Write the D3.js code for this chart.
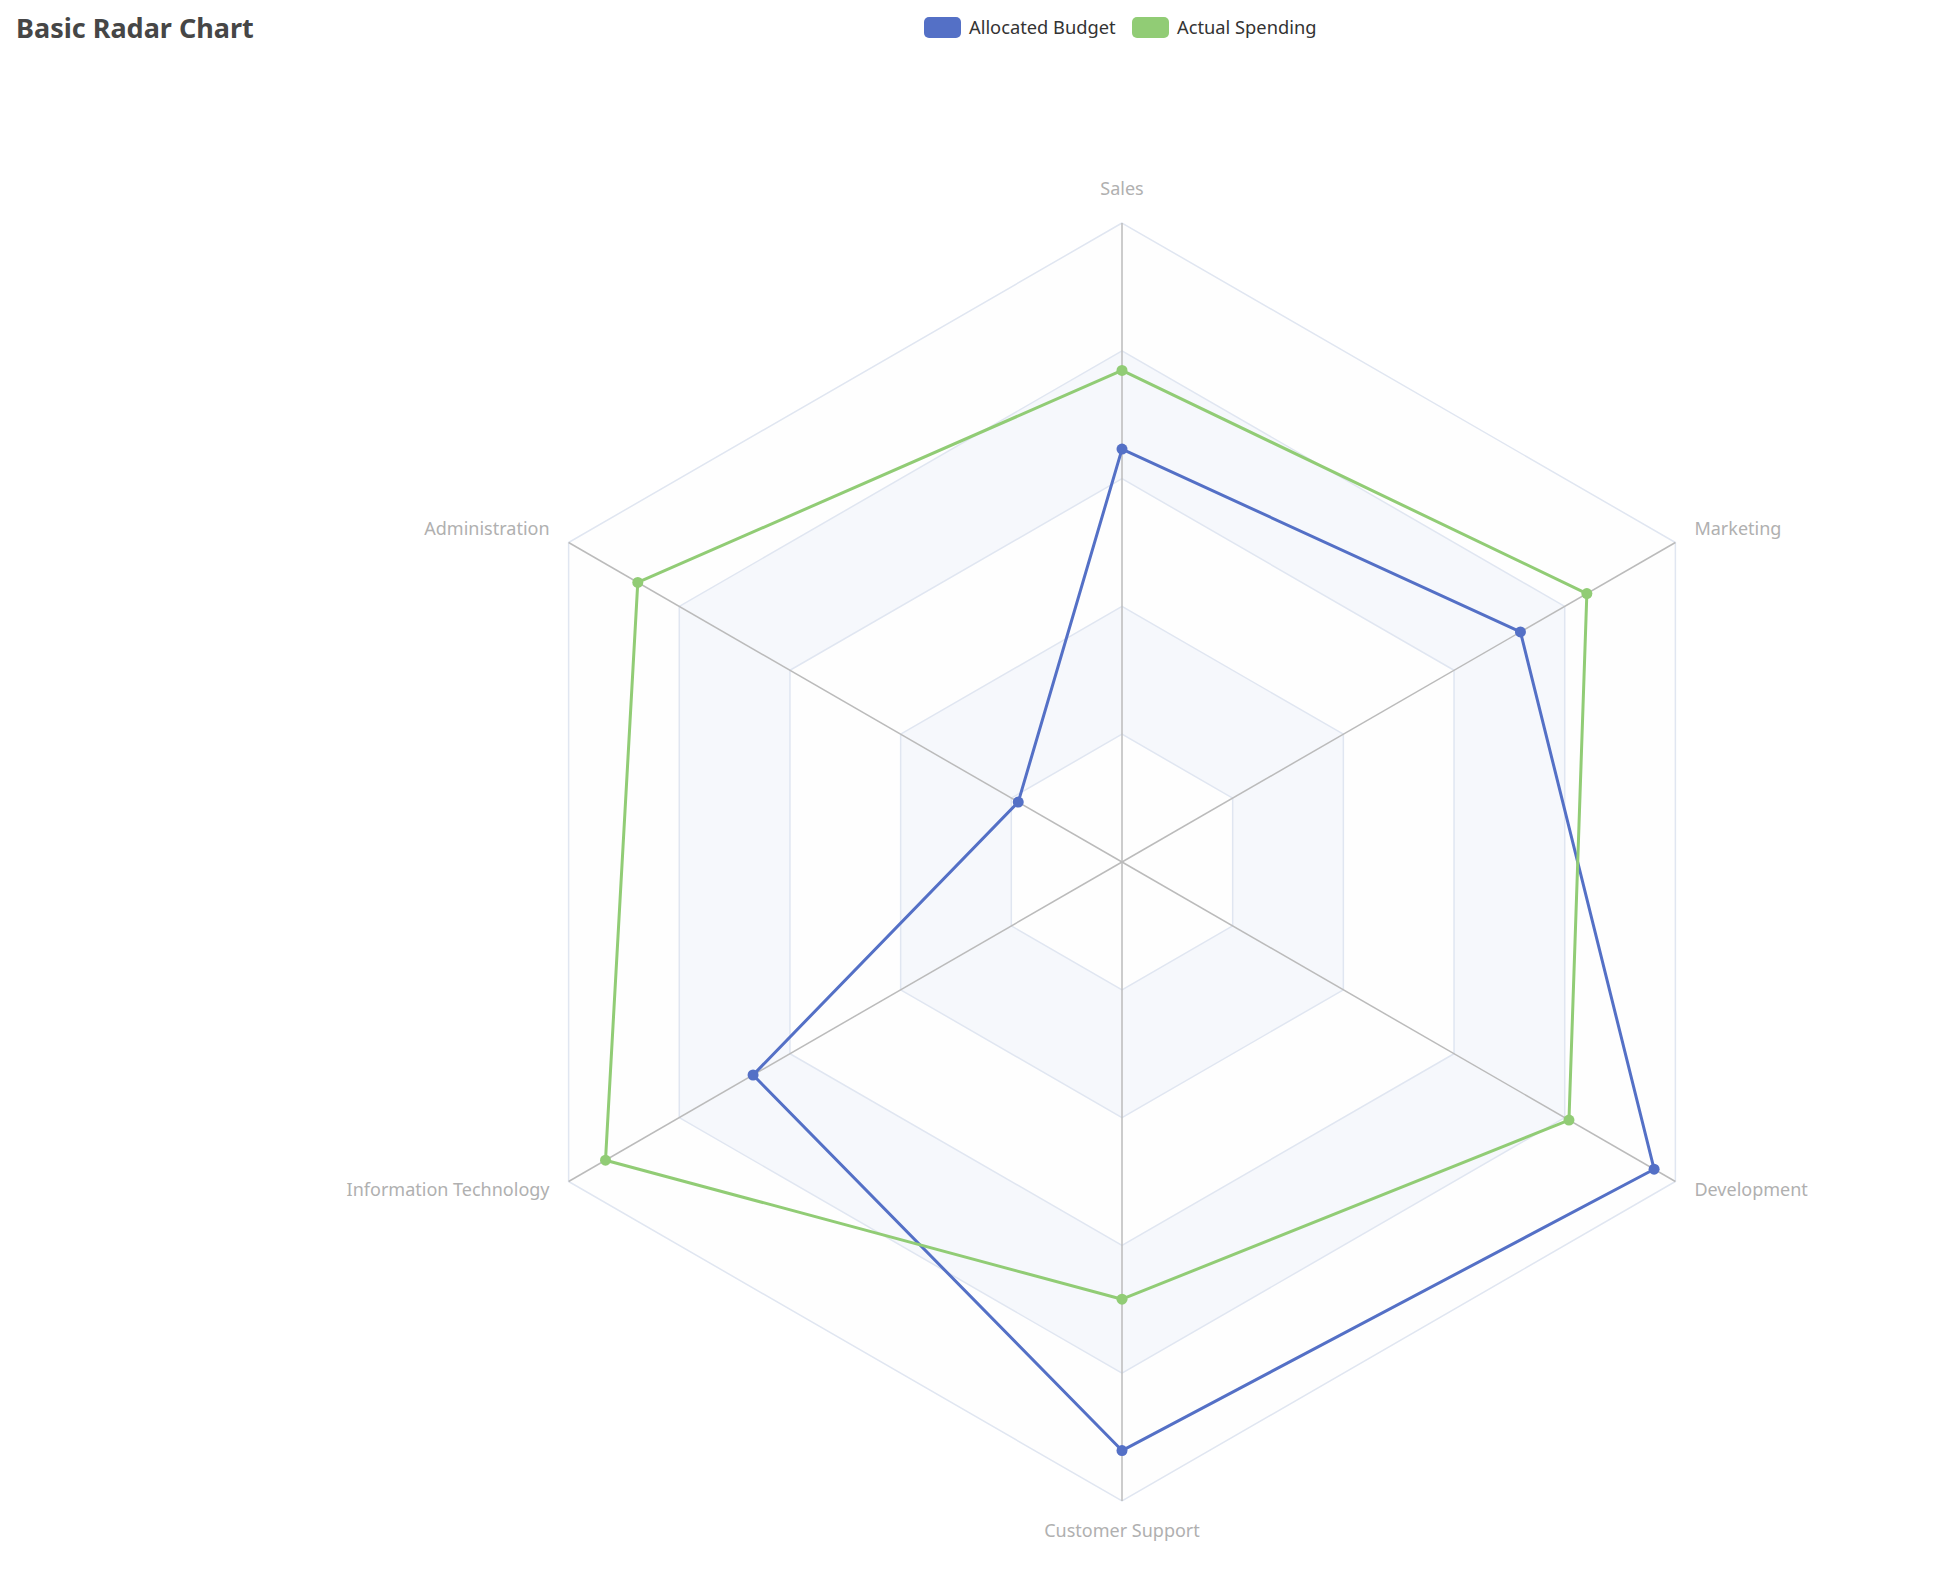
<!DOCTYPE html>
<html>
<head>
<meta charset="utf-8">
<script src="https://cdn.jsdelivr.net/npm/d3@7"></script>
<style>
  html, body { margin: 0; padding: 0; background: #ffffff; }
  svg { display: block; }
  text { font-family: "Noto Sans", "Open Sans", sans-serif; }
</style>
</head>
<body>
<svg id="chart" width="1955" height="1569"></svg>
<script>
// ---- data ----
const indicators = ["Sales", "Administration", "Information Technology", "Customer Support", "Development", "Marketing"];
const indicatorMax = [6500, 16000, 30000, 38000, 52000, 25000];
const seriesNames = ["Allocated Budget", "Actual Spending"];
const allocatedBudget = [4200, 3000, 20000, 35000, 50000, 18000];
const actualSpending = [5000, 14000, 28000, 26000, 42000, 21000];
const seriesColors = ["#5470c6", "#91cc75"];
const splitCount = 5;

// ---- layout ----
const W = 1955, H = 1569;
const cx = 1122, cy = 862, R = 639;
const nameGap = 22;

const svg = d3.select("#chart");

// angle: ECharts starts at top and goes counter-clockwise
const angleScale = d3.scaleLinear().domain([0, indicators.length]).range([0, -2 * Math.PI]);
const radiusScales = indicatorMax.map(m => d3.scaleLinear().domain([0, m]).range([0, R]));
const ringScale = d3.scaleLinear().domain([0, splitCount]).range([0, R]);

function pt(i, r) {
  const a = angleScale(i);
  return [cx + r * Math.sin(a), cy - r * Math.cos(a)];
}

const g = svg.append("g");

// split areas (alternating)
const areaColors = ["rgba(250,250,250,0.2)", "rgba(210,219,238,0.2)"];
for (let k = splitCount - 1; k >= 0; k--) {
  const rOut = ringScale(k + 1), rIn = ringScale(k);
  const outer = indicators.map((_, i) => pt(i, rOut));
  const inner = indicators.map((_, i) => pt(i, rIn)).reverse();
  let d = "M" + outer.map(p => p.join(",")).join("L") + "Z";
  if (k > 0) d += "M" + inner.map(p => p.join(",")).join("L") + "Z";
  g.append("path").attr("d", d).attr("fill", areaColors[k % 2]).attr("fill-rule", "evenodd");
}

// split lines
for (let k = 1; k <= splitCount; k++) {
  const r = ringScale(k);
  g.append("path")
    .attr("d", d3.line()(indicators.map((_, i) => pt(i, r))) + "Z")
    .attr("fill", "none")
    .attr("stroke", "#E0E6F1")
    .attr("stroke-width", 1.5);
}

// axis lines
indicators.forEach((_, i) => {
  const [x, y] = pt(i, R);
  g.append("line")
    .attr("x1", cx).attr("y1", cy).attr("x2", x).attr("y2", y)
    .attr("stroke", "#bbbbbb").attr("stroke-width", 1.5);
});

// axis names
indicators.forEach((name, i) => {
  const a = angleScale(i);
  const s = Math.sin(a), c = Math.cos(a);
  const [x, y] = pt(i, R + nameGap);
  const anchor = Math.abs(s) < 0.01 ? "middle" : (s > 0 ? "start" : "end");
  let baseline, dy;
  if (c > 0.99) { baseline = "alphabetic"; dy = -6; }
  else if (c < -0.99) { baseline = "hanging"; dy = -1; }
  else { baseline = "central"; dy = -4; }
  g.append("text")
    .attr("x", x).attr("y", y + dy)
    .attr("text-anchor", anchor)
    .attr("dominant-baseline", baseline)
    .attr("font-size", 18)
    .attr("fill", "#b0b0b0")
    .text(name);
});

// series
const seriesData = [allocatedBudget, actualSpending];
const lineGen = d3.line().curve(d3.curveLinearClosed);
seriesData.forEach((vals, si) => {
  const pts = vals.map((v, i) => pt(i, radiusScales[i](v)));
  g.append("path")
    .attr("d", lineGen(pts))
    .attr("fill", "none")
    .attr("stroke", seriesColors[si])
    .attr("stroke-width", 3)
    .attr("stroke-linejoin", "bevel");
  g.selectAll(null).data(pts).enter().append("circle")
    .attr("cx", d => d[0]).attr("cy", d => d[1])
    .attr("r", 5.5)
    .attr("fill", seriesColors[si]);
});

// title
svg.append("text")
  .attr("x", 16).attr("y", 38)
  .attr("font-size", 27)
  .attr("font-weight", "bold")
  .attr("fill", "#464646")
  .text("Basic Radar Chart");

// legend
const legendX = [924, 1132];
seriesNames.forEach((name, si) => {
  const lg = svg.append("g").attr("transform", `translate(${legendX[si]},17)`);
  lg.append("rect").attr("width", 37).attr("height", 21).attr("rx", 5)
    .attr("fill", seriesColors[si]);
  lg.append("text").attr("x", 45).attr("y", 9)
    .attr("dominant-baseline", "central")
    .attr("font-size", 18.3).attr("fill", "#333333")
    .text(name);
});
</script>
</body>
</html>
